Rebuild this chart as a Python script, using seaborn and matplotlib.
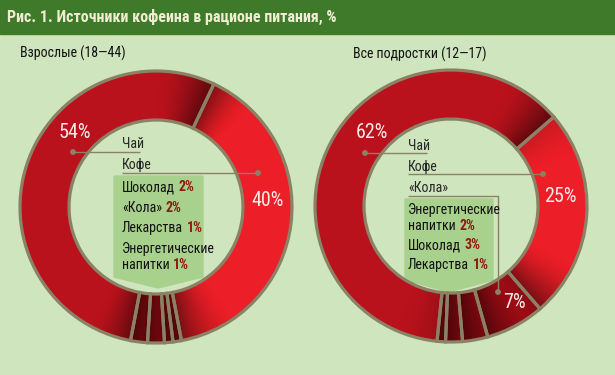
import numpy as np
import matplotlib
matplotlib.use('Agg')
import matplotlib.pyplot as plt
import seaborn as sns
from matplotlib.colors import to_rgb
from matplotlib.patches import Rectangle, Polygon, Circle

# --- data ---
title = 'Рис. 1. Источники кофеина в рационе питания, %'

adult_title = 'Взрослые (18—44)'
adult_sources = ['Кофе', 'Энергетические\nнапитки', 'Лекарства', '«Кола»', 'Шоколад', 'Чай']
adult_share = [40, 1, 1, 2, 2, 54]
adult_box = ['Шоколад', '«Кола»', 'Лекарства', 'Энергетические\nнапитки']

teen_title = 'Все подростки (12—17)'
teen_sources = ['Кофе', '«Кола»', 'Шоколад', 'Энергетические\nнапитки', 'Лекарства', 'Чай']
teen_share = [25, 7, 3, 2, 1, 62]
teen_box = ['Энергетические\nнапитки', 'Шоколад', 'Лекарства']

W, H = 615, 375
BG = '#cfe5bd'
BAR = '#3e7a2a'
EDGE = '#8b8265'
BOX = '#a9d18e'
PCT = '#8e1a10'
slice_colors = {'Кофе': '#ec1e27', 'Чай': '#ba121c', '«Кола»': '#a80d16'}
small_color = '#9a0c14'

sns.set_theme(style='white')
plt.rcParams['font.family'] = ['Roboto Condensed', 'Liberation Sans Narrow',
                               'Open Sans Condensed', 'DejaVu Sans']
plt.rcParams['font.stretch'] = 'condensed'


def Y(y):
    return H - y


gx, gy = np.meshgrid(np.arange(W) + 0.5, np.arange(H) + 0.5)


def donut(ax, sources, share, cx, cy, start_from_top, start_dark):
    cols = [slice_colors.get(s, small_color) for s in sources]
    kw = dict(startangle=90 - start_from_top, counterclock=False,
              center=(cx, Y(cy)), radius=136)
    wedges, _ = ax.pie(share, colors=cols, wedgeprops=dict(width=49, linewidth=0, zorder=2), **kw)
    # shading: slices get darker toward their edges (clockwise angle from top)
    theta = np.degrees(np.arctan2(gx - cx, gy - Y(cy))) % 360
    bounds = np.concatenate([[0], np.cumsum(share)]) / sum(share) * 360 + start_from_top
    for w, c, s, e in zip(wedges, cols, bounds[:-1], bounds[1:]):
        a = (theta - s) % 360
        span = e - s
        d_end = 0.5 * np.clip(1 - (span - a) / 24, 0, 1) ** 1.6
        d_start = start_dark * np.clip(1 - a / 18, 0, 1) ** 1.5
        shade = 1 - np.maximum(d_end, d_start)
        img = np.array(to_rgb(c))[None, None, :] * shade[..., None]
        im = ax.imshow(img, extent=(0, W, 0, H), origin='lower', zorder=2.5,
                       interpolation='bilinear')
        im.set_clip_path(w)
    ax.pie(share, colors=['none'] * len(share),
           wedgeprops=dict(width=49, edgecolor=EDGE, linewidth=2.3, zorder=3), **kw)


def box_list(ax, names, sources, share, x, y0, step):
    y = y0
    for name in names:
        val = share[sources.index(name)]
        lines = name.split('\n')
        for ln in lines[:-1]:
            ax.text(x, Y(y), ln, fontsize=10, color='#111111', va='center', zorder=5)
            y += step * 0.8
        t = ax.text(x, Y(y), lines[-1], fontsize=10, color='#111111', va='center', zorder=5)
        ax.annotate(f'{val}%', xy=(1, 0.5), xycoords=t, xytext=(2.5, 0),
                    textcoords='offset points', va='center', fontsize=10,
                    fontweight='bold', color=PCT, zorder=5)
        y += step


def leader(ax, xs, ys):
    ax.plot(xs, [Y(v) for v in ys], color=EDGE, lw=1.0, zorder=4, solid_capstyle='butt')
    ax.add_patch(Circle((xs[-1], Y(ys[-1])), 2.2, color=EDGE, zorder=4))


fig = plt.figure(figsize=(W / 100, H / 100), dpi=100)
fig.patch.set_facecolor(BG)
ax = fig.add_axes([0, 0, 1, 1])

donut(ax, adult_sources, adult_share, 156, 207, 25.2, 0.45)
donut(ax, teen_sources, teen_share, 451, 206, 49.1, 0.15)

ax.set_xlim(0, W)
ax.set_ylim(0, H)
ax.set_aspect('equal')
ax.axis('off')

# title bar
ax.add_patch(Rectangle((0, Y(34)), W, 34, color=BAR, zorder=6))
ax.text(7, Y(17), title, color='#f1edd3', fontsize=11.5, fontweight='bold',
        va='center', zorder=7)

# panel headers
ax.text(20, Y(53), adult_title, fontsize=10, color='#111111', va='center')
ax.text(353, Y(54), teen_title, fontsize=10, color='#111111', va='center')

# adult panel annotations
ax.add_patch(Polygon([(114, Y(176)), (203, Y(176)), (203, Y(277)), (158, Y(288)),
                      (114, Y(277))], closed=True, color=BOX, zorder=1))
ax.text(122, Y(144), 'Чай', fontsize=10, va='center', zorder=5)
ax.text(122, Y(165), 'Кофе', fontsize=10, va='center', zorder=5)
leader(ax, [140, 73], [152, 152])
leader(ax, [122, 258], [173, 173])
box_list(ax, adult_box, adult_sources, adult_share, 122, 187, 20.5)
ax.text(75, Y(132), f"{adult_share[adult_sources.index('Чай')]}%", fontsize=14.5,
        color='#fbeae6', ha='center', va='center', zorder=5)
ax.text(268, Y(200), f"{adult_share[adult_sources.index('Кофе')]}%", fontsize=14.5,
        color='#fbeae6', ha='center', va='center', zorder=5)

# teen panel annotations
ax.add_patch(Polygon([(405, Y(199)), (493, Y(199)), (493, Y(280)), (449, Y(292)),
                      (405, Y(280))], closed=True, color=BOX, zorder=1))
ax.text(408, Y(146), 'Чай', fontsize=10, va='center', zorder=5)
ax.text(408, Y(167), 'Кофе', fontsize=10, va='center', zorder=5)
ax.text(408, Y(188), '«Кола»', fontsize=10, va='center', zorder=5)
leader(ax, [427, 365], [153, 153])
leader(ax, [408, 543], [174, 174])
leader(ax, [408, 498, 498], [196, 196, 292])
box_list(ax, teen_box, teen_sources, teen_share, 408, 210, 19.5)
ax.text(372, Y(132), f"{teen_share[teen_sources.index('Чай')]}%", fontsize=14.5,
        color='#fbeae6', ha='center', va='center', zorder=5)
ax.text(560, Y(197), f"{teen_share[teen_sources.index('Кофе')]}%", fontsize=14.5,
        color='#fbeae6', ha='center', va='center', zorder=5)
ax.text(514, Y(302), f"{teen_share[teen_sources.index('«Кола»')]}%", fontsize=14.5,
        color='#fbeae6', ha='center', va='center', zorder=5)

fig.savefig('out.png', dpi=100, facecolor=BG)
